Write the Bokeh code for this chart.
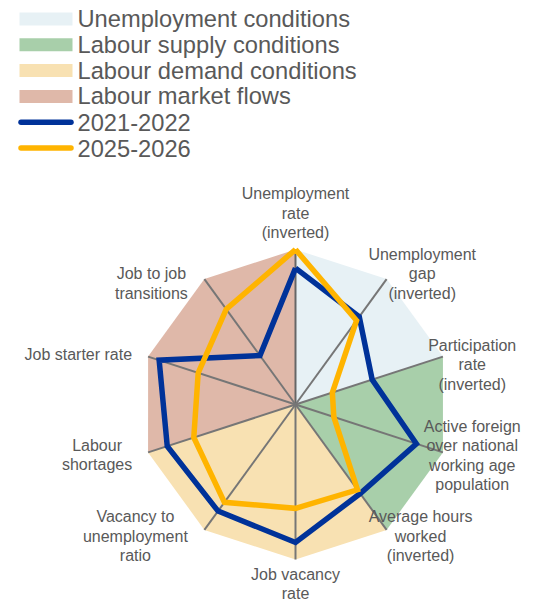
import numpy as np
from bokeh.plotting import figure
from bokeh.models import Range1d, ColumnDataSource
from bokeh.core.properties import value
from bokeh.embed import file_html
from bokeh.resources import INLINE

# ---------------- data ----------------
indicators = [
    "Unemployment\nrate\n(inverted)",
    "Unemployment\ngap\n(inverted)",
    "Participation\nrate\n(inverted)",
    "Active foreign\nover national\nworking age\npopulation",
    "Average hours\nworked\n(inverted)",
    "Job vacancy\nrate",
    "Vacancy to\nunemployment\nratio",
    "Labour\nshortages",
    "Job starter rate",
    "Job to job\ntransitions",
]
series_names = ["2021-2022", "2025-2026"]
values_2021_2022 = [0.88, 0.70, 0.52, 0.82, 0.71, 0.89, 0.85, 0.87, 0.925, 0.39]
values_2025_2026 = [1.00, 0.67, 0.25, 0.26, 0.68, 0.67, 0.78, 0.69, 0.66, 0.76]
categories = ["Unemployment conditions", "Labour supply conditions",
              "Labour demand conditions", "Labour market flows"]
category_axes = [(0, 2), (2, 4), (4, 7), (7, 10)]   # axis spans of each block
scale_max = 1.0

# ---------------- styling / layout ----------------
W, H = 554, 603
S = 155.0                    # pixels per unit of radius
CX, CY = 295.0, 404.0        # centre of radar in figure pixels
cat_colors = ["#E7F1F5", "#A8CFAA", "#F8E1B2", "#DFB8A9"]
ser_colors = ["#003299", "#FFB400"]
txt_color = "#595959"
FONT = "Liberation Sans"

def pxx(x):
    return (x - CX) / S

def pxy(y):
    return (CY - y) / S

p = figure(width=W, height=H, output_backend="svg", toolbar_location=None,
           x_range=Range1d(-CX / S, (W - CX) / S),
           y_range=Range1d(-(H - CY) / S, CY / S),
           min_border=0, min_border_left=0, min_border_right=0,
           min_border_top=0, min_border_bottom=0)
p.axis.visible = False
p.grid.visible = False
p.outline_line_color = None
p.background_fill_color = "white"

n = len(indicators)
ang = np.arange(n + 1) * 2 * np.pi / n       # clockwise from top
ux, uy = np.sin(ang), np.cos(ang)

# background sectors
for name, (a, b), col in zip(categories, category_axes, cat_colors):
    xs = [0.0] + list(ux[a:b + 1] * scale_max) + [0.0]
    ys = [0.0] + list(uy[a:b + 1] * scale_max) + [0.0]
    p.patch(xs, ys, fill_color=col, line_color=None)

# spokes
spoke_colors = ["#666666"] + ["#767676"] * (n - 1)
p.segment(x0=[0.0] * n, y0=[0.0] * n, x1=list(ux[:n] * scale_max),
          y1=list(uy[:n] * scale_max), line_color=spoke_colors, line_width=2)

# series
for vals, col in zip([values_2021_2022, values_2025_2026], ser_colors):
    v = np.array(vals + vals[:1])
    p.line(list(ux * v), list(uy * v), line_color=col, line_width=5.5,
           line_join="miter")

# axis labels: offset (px) of label block centre from the spoke end
label_off = [(0, -36.3), (35.6, -5.6), (29.3, 7.9), (29.3, 3.0), (34, 6.6),
             (0, 24.5), (-69, 6.6), (-51, 2.6), (-16, -2.0), (-53, 4.4)]
line_h = 19.5
tx, ty, tt, ta = [], [], [], []
for k, lab in enumerate(indicators):
    lines = lab.split("\n")
    bx = ux[k] * scale_max + label_off[k][0] / S
    by = uy[k] * scale_max - label_off[k][1] / S
    m = len(lines)
    for i, ln in enumerate(lines):
        tx.append(bx)
        ty.append(by - (i - (m - 1) / 2) * line_h / S)
        tt.append(ln)
        ta.append("right" if k == 8 else "center")
p.text(x="x", y="y", text="t", text_align="a",
       source=ColumnDataSource(dict(x=tx, y=ty, t=tt, a=ta)),
       text_font=value(FONT), text_font_size="16px", text_color=txt_color,
       text_baseline="middle")

# legend (drawn manually)
row0, row_h = 18.5, 25.8
leg_labels = categories + series_names
for i, lab in enumerate(leg_labels):
    yc = row0 + i * row_h
    if i < len(categories):
        p.quad(left=pxx(19), right=pxx(72), top=pxy(yc - 6.5), bottom=pxy(yc + 6.5),
               fill_color=cat_colors[i], line_color=None)
    else:
        p.line([pxx(20.5), pxx(70.5)], [pxy(yc), pxy(yc)],
               line_color=ser_colors[i - len(categories)], line_width=5.5,
               line_cap="round")
    p.text(x=[pxx(77)], y=[pxy(yc)], text=[lab], text_font=value(FONT),
           text_font_size="23.7px", text_color=txt_color, text_baseline="middle",
           text_align="left")

open("out.html", "w").write(file_html(p, INLINE))
